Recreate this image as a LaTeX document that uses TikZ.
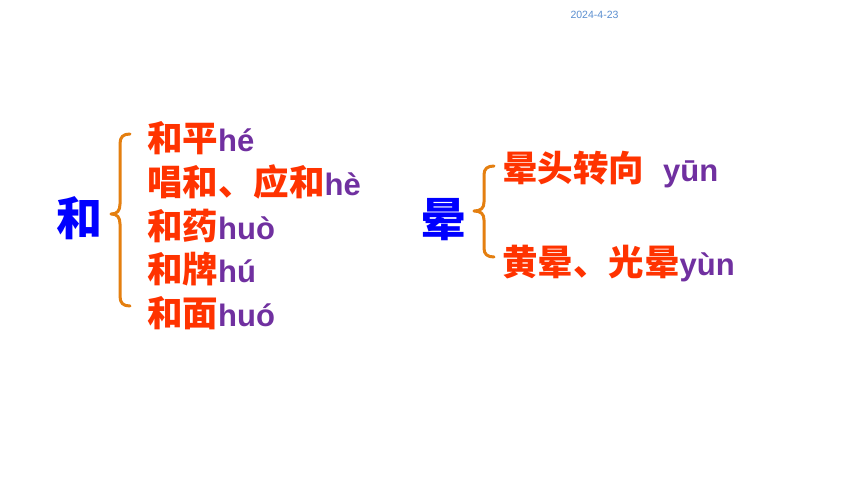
\documentclass[tikz,border=0pt]{standalone}
\usepackage{fontspec}
\setmainfont{Liberation Sans}
\newfontfamily\cjk{Noto Sans CJK SC}
\definecolor{hanred}{HTML}{FF3300}
\definecolor{pyviolet}{HTML}{7030A0}
\definecolor{headblue}{HTML}{0000FF}
\definecolor{braceorange}{HTML}{E47F10}
\definecolor{datecol}{HTML}{5B8FD0}
\newcommand{\hz}[1]{{\cjk\bfseries\color{hanred}\fontsize{35.5bp}{40bp}\selectfont #1}}
\newcommand{\py}[1]{{\bfseries\color{pyviolet}\fontsize{31bp}{36bp}\selectfont #1}}
\begin{document}
\begin{tikzpicture}[x=1bp,y=-1bp,
  row/.style={anchor=base west, inner sep=0pt},
  head/.style={anchor=base west, inner sep=0pt, text=headblue, font=\cjk\bfseries\fontsize{46bp}{50bp}\selectfont},
  bracepath/.style={draw=braceorange, line width=3bp, line cap=round, line join=round}]
\useasboundingbox (0,0) rectangle (860,484);
\fill[white] (0,0) rectangle (860,484);
\node[anchor=center, inner sep=0pt, text=datecol, font=\fontsize{10.5bp}{12bp}\selectfont] (date) at (594.5,14.5) {2024-4-23};
% left group
\node[head] (he) at (56,236) {和};
\draw[bracepath] (130,134) .. controls (123,134) and (120,137) .. (120,144) -- (120,204)
  .. controls (120,211) and (117,214) .. (111,214) .. controls (117,214) and (120,217) .. (120,224)
  -- (120,296) .. controls (120,303) and (123,306) .. (130,306);
\node[row] (r1) at (147,152) {\hz{和平}\py{hé}};
\node[row] (r2) at (147,195.5) {\hz{唱和、应和}\py{hè}};
\node[row] (r3) at (147,239.5) {\hz{和药}\py{huò}};
\node[row] (r4) at (147,283) {\hz{和牌}\py{hú}};
\node[row] (r5) at (147,326.5) {\hz{和面}\py{huó}};
% right group
\node[head] (yun) at (420,237) {晕};
\draw[bracepath] (494,166) .. controls (487,166) and (484,169) .. (484,175) -- (484,202)
  .. controls (484,208) and (481,211) .. (474,211) .. controls (481,211) and (484,214) .. (484,220)
  -- (484,248) .. controls (484,254) and (487,257) .. (494,257);
\node[row] (s1) at (502,182) {\hz{晕头转向}\hspace{19bp}\py{yūn}};
\node[row] (s2) at (502,276) {\hz{黄晕、光晕}\py{yùn}};
\end{tikzpicture}
\end{document}
